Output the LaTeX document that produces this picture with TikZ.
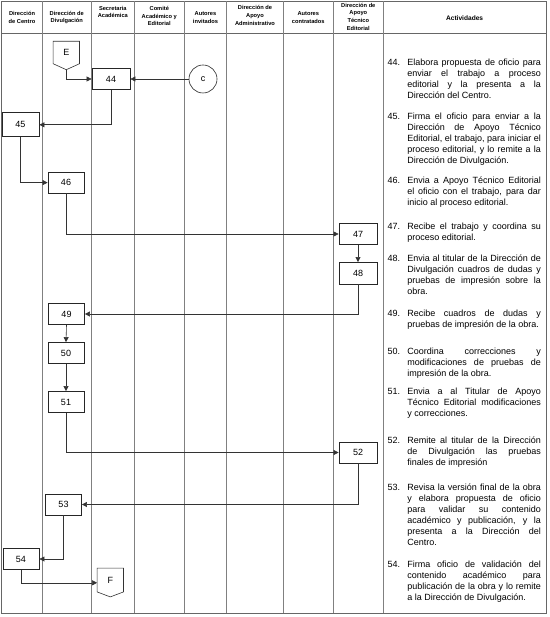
\documentclass[tikz,border=0pt]{standalone}
\usepackage{fontspec}
\setmainfont{Liberation Sans}
\usetikzlibrary{arrows.meta,calc}
\begin{document}
\begin{tikzpicture}[x=1pt,y=-1pt,
  lane/.style={draw=black!50, line width=0.6pt},
  frame/.style={draw=black!60, line width=0.7pt},
  box/.style={draw=black!85, line width=0.8pt, minimum width=36pt, minimum height=21pt, inner sep=0pt, font=\fontsize{9}{11}\selectfont},
  conn/.style={draw=black!80, line width=0.6pt, -{Triangle[length=5pt,width=5pt]}},
  plain/.style={draw=black!80, line width=0.6pt},
  offpage/.style={inner sep=0pt, minimum width=26pt, font=\fontsize{9}{11}\selectfont},
  hdr/.style={font=\fontsize{5.7}{7.7}\selectfont\bfseries, align=center, inner sep=0pt},
  actn/.style={anchor=north west, inner sep=0pt, font=\fontsize{9}{11}\selectfont, execute at begin node=\strut},
  actt/.style={anchor=north west, inner sep=0pt, text width=133.6pt, font=\fontsize{9}{11}\selectfont, align=justify, execute at begin node={\tolerance=10000\hbadness=10000\strut}}
]
\useasboundingbox (0,0) rectangle (549,617);
% frame and lanes
\draw[frame] (1.7,1.5) rectangle (546,613);
\draw[frame] (1.7,33.3) -- (546,33.3);
\foreach \x in {42.3,91.3,134.3,184.3,226.7,283.3,333.3,383.3}
  \draw[lane] (\x,1.5) -- (\x,613);
% headers
\node[hdr] (h1) at (22,17.5) {Dirección\\de Centro};
\node[hdr] (h2) at (66.8,17.5) {Dirección de\\Divulgación};
\node[hdr] (h3) at (112.8,12) {Secretaria\\Académica};
\node[hdr] (h4) at (159.3,16) {Comité\\Académico y\\Editorial};
\node[hdr] (h5) at (205.5,17.5) {Autores\\invitados};
\node[hdr] (h6) at (255,15.5) {Dirección de\\Apoyo\\Administrativo};
\node[hdr] (h7) at (308.3,17.5) {Autores\\contratados};
\node[hdr] (h8) at (358.3,16.5) {Dirección de\\Apoyo\\Técnico\\Editorial};
\node[hdr, font=\fontsize{6.6}{8}\selectfont\bfseries] (h9) at (464.6,18) {Actividades};
% off-page connectors
\node[offpage, minimum height=22pt] (E) at (66.3,52.5) {E};
\draw[plain] (E.north west) -- (E.south west) -- ($(E.south)+(0,6)$) coordinate (Etip) -- (E.south east) -- (E.north east) -- cycle;
\node[offpage, minimum height=23.4pt] (F) at (110.3,580) {F};
\draw[plain] (F.north west) -- (F.south west) -- ($(F.south)+(0,5)$) -- (F.south east) -- (F.north east) -- cycle;
\coordinate (Fin) at ($(F.north west)+(0,14.7)$);
\node[draw=black!85, line width=0.6pt, circle, minimum size=28pt, inner sep=0pt, font=\fontsize{9}{11}\selectfont] (c) at (203,79) {c};
% process boxes
\node[box, minimum width=38pt] (n44) at (111,79) {44};
\node[box, minimum width=37pt, minimum height=24pt] (n45) at (20.5,124.8) {45};
\node[box] (n46) at (66,182.6) {46};
\node[box, minimum width=38pt] (n47) at (358,234) {47};
\node[box, minimum width=38pt, minimum height=21.5pt] (n48) at (358,273.2) {48};
\node[box] (n49) at (66.5,314) {49};
\node[box] (n50) at (66,353) {50};
\node[box] (n51) at (66,402) {51};
\node[box, minimum width=38pt] (n52) at (358,452.5) {52};
\node[box] (n53) at (63.5,504.5) {53};
\node[box] (n54) at (21,559) {54};
% connectors
\draw[conn] (Etip) |- (n44.west);
\draw[conn] (c.west) -- (c.west -| n44.east);
\draw[conn] (n44.south) |- (n45.east);
\draw[conn] (n45.south) |- (n46.west);
\draw[conn] (n46.south) |- (n47.west);
\draw[conn] (n47.south) -- (n48.north);
\draw[conn] (n48.south) |- (n49.east);
\draw[conn] (n49.south) -- (n50.north);
\draw[conn] (n50.south) -- (n51.north);
\draw[conn] (n51.south) |- (n52.west);
\draw[conn] (n52.south) |- (n53.east);
\draw[conn] (n53.south) |- (n54.east);
\draw[conn] (n54.south) |- (Fin);
% activities
\node[actn] (k44) at (387.3,57.3) {44.};
\node[actt] (a44) at (407.1,57.3) {Elabora propuesta de oficio para \linebreak enviar el trabajo a proceso \linebreak editorial y la presenta a la \linebreak Dirección del Centro.};
\node[actn] (k45) at (387.3,111.3) {45.};
\node[actt] (a45) at (407.1,111.3) {Firma el oficio para enviar a la \linebreak Dirección de Apoyo Técnico \linebreak Editorial, el trabajo, para iniciar el \linebreak proceso editorial, y lo remite a la \linebreak Dirección de Divulgación.};
\node[actn] (k46) at (387.3,175.3) {46.};
\node[actt] (a46) at (407.1,175.3) {Envia a Apoyo Técnico Editorial \linebreak el oficio con el trabajo, para dar \linebreak inicio al proceso editorial.};
\node[actn] (k47) at (387.3,221.3) {47.};
\node[actt] (a47) at (407.1,221.3) {Recibe el trabajo y coordina su \linebreak proceso editorial.};
\node[actn] (k48) at (387.3,253.3) {48.};
\node[actt] (a48) at (407.1,253.3) {Envia al titular de la Dirección de \linebreak Divulgación cuadros de dudas y \linebreak pruebas de impresión sobre la \linebreak obra.};
\node[actn] (k49) at (387.3,308.3) {49.};
\node[actt] (a49) at (407.1,308.3) {Recibe cuadros de dudas y \linebreak pruebas de impresión de la obra.};
\node[actn] (k50) at (387.3,346.3) {50.};
\node[actt] (a50) at (407.1,346.3) {Coordina correcciones y \linebreak modificaciones de pruebas de \linebreak impresión de la obra.};
\node[actn] (k51) at (387.3,386.3) {51.};
\node[actt] (a51) at (407.1,386.3) {Envia a al Titular de Apoyo \linebreak Técnico Editorial modificaciones \linebreak y correcciones.};
\node[actn] (k52) at (387.3,435.3) {52.};
\node[actt] (a52) at (407.1,435.3) {Remite al titular de la Dirección \linebreak de Divulgación las pruebas \linebreak finales de impresión};
\node[actn] (k53) at (387.3,482.3) {53.};
\node[actt] (a53) at (407.1,482.3) {Revisa la versión final de la obra \linebreak y elabora propuesta de oficio \linebreak para validar su contenido \linebreak académico y publicación, y la \linebreak presenta a la Dirección del \linebreak Centro.};
\node[actn] (k54) at (387.3,559.3) {54.};
\node[actt] (a54) at (407.1,559.3) {Firma oficio de validación del \linebreak contenido académico para \linebreak publicación de la obra y lo remite \linebreak a la Dirección de Divulgación.};
\end{tikzpicture}
\end{document}
